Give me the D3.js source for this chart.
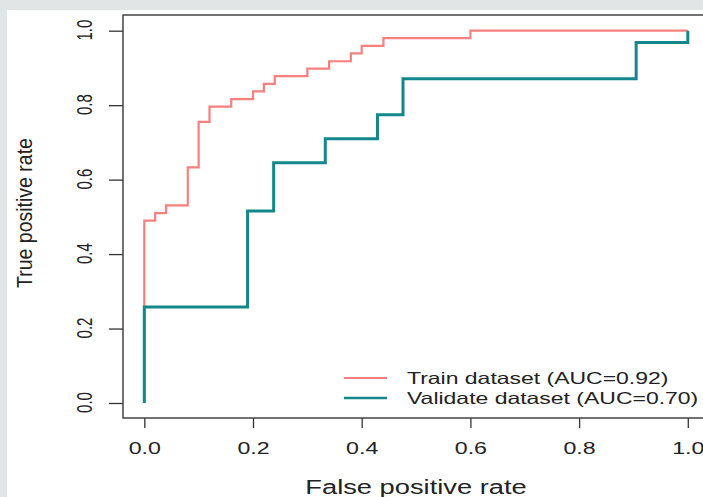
<!DOCTYPE html>
<html>
<head>
<meta charset="utf-8">
<script src="https://cdn.jsdelivr.net/npm/d3@7"></script>
<style>
  body { margin: 0; background: #e1e5e6; }
  text { font-family: "Liberation Sans", Arial, Helvetica, sans-serif; fill: #222; }
</style>
</head>
<body>
<div id="chart"></div>
<script>
// ROC points (fpr, tpr)
const trainFpr = [0, 0, 0.02, 0.04, 0.08, 0.10, 0.12, 0.16, 0.20, 0.22, 0.24, 0.30, 0.34, 0.38, 0.40, 0.44, 0.60, 1.0];
const trainTpr = [0, 0.49, 0.51, 0.531, 0.633, 0.755, 0.796, 0.816, 0.837, 0.857, 0.878, 0.898, 0.918, 0.939, 0.959, 0.98, 1.0, 1.0];
const validFpr = [0, 0, 0.19, 0.238, 0.333, 0.429, 0.476, 0.905, 1.0, 1.0];
const validTpr = [0, 0.258, 0.516, 0.645, 0.71, 0.774, 0.871, 0.968, 0.968, 1.0];
const tickValues = [0, 0.2, 0.4, 0.6, 0.8, 1.0];
const legendLabels = ["Train dataset (AUC=0.92)", "Validate dataset (AUC=0.70)"];
const colors = ["#f7807e", "#14878a"];

function main() {
    const canvasWidth = 703;
    const canvasHeight = 497;

    const svg = d3.select("#chart").append("svg")
        .attr("width", canvasWidth)
        .attr("height", canvasHeight)
        .style("display", "block");

    // white panel on gray page
    svg.append("rect")
        .attr("x", 7).attr("y", 10)
        .attr("width", canvasWidth).attr("height", canvasHeight)
        .attr("fill", "white");

    const xScale = d3.scaleLinear().domain([0, 1]).range([144.3, 687.8]);
    const yScale = d3.scaleLinear().domain([0, 1]).range([403, 30.7]);

    const boxLeft = 123, boxTop = 15, boxBottom = 418;

    // x axis
    const xAxis = svg.append("g")
        .attr("transform", "translate(0," + boxBottom + ")")
        .call(d3.axisBottom(xScale).tickValues(tickValues).tickSize(10).tickFormat(d3.format(".1f")));
    xAxis.select(".domain").remove();
    xAxis.selectAll("line").attr("stroke", "#333").attr("stroke-width", 1.3);
    xAxis.selectAll("text")
        .attr("y", 0).attr("dy", null)
        .attr("font-size", "16px")
        .attr("fill", "#222")
        .attr("transform", "translate(0,36) scale(1.45,1)");

    // y axis, labels turned sideways
    const yAxis = svg.append("g")
        .attr("transform", "translate(" + boxLeft + ",0)")
        .call(d3.axisLeft(yScale).tickValues(tickValues).tickSize(14).tickFormat(d3.format(".1f")));
    yAxis.select(".domain").remove();
    yAxis.selectAll("line").attr("stroke", "#333").attr("stroke-width", 1.3);
    yAxis.selectAll("text")
        .attr("x", 0).attr("y", 0).attr("dy", null)
        .attr("text-anchor", "middle")
        .attr("font-size", "15px")
        .attr("fill", "#222")
        .attr("transform", "translate(-39,-1) scale(1.47,1) rotate(-90) translate(0,5.4)");

    // box
    svg.append("path")
        .attr("d", "M" + (canvasWidth + 10) + "," + boxTop + "H" + boxLeft + "V" + boxBottom + "H" + (canvasWidth + 10))
        .attr("fill", "none")
        .attr("stroke", "#444")
        .attr("stroke-width", 1.5);

    // axis titles
    svg.append("text")
        .attr("font-size", "21px")
        .attr("text-anchor", "middle")
        .attr("transform", "translate(416,494) scale(1.3,1)")
        .text("False positive rate");

    svg.append("text")
        .attr("font-size", "19.5px")
        .attr("text-anchor", "middle")
        .attr("transform", "translate(32,213) scale(1.1,1) rotate(-90)")
        .text("True positive rate");

    // ROC curves
    const line = d3.line()
        .x(d => xScale(d[0]))
        .y(d => yScale(d[1]))
        .curve(d3.curveStepAfter);

    const curves = [
        { pts: d3.zip(trainFpr, trainTpr), color: colors[0], width: 2.2 },
        { pts: d3.zip(validFpr, validTpr), color: colors[1], width: 3 }
    ];
    // validate drawn on top of train
    svg.selectAll(".roc")
        .data(curves)
        .join("path")
        .attr("class", "roc")
        .attr("fill", "none")
        .attr("stroke", d => d.color)
        .attr("stroke-width", d => d.width)
        .attr("d", d => line(d.pts));

    // legend
    const legend = svg.selectAll(".legend")
        .data(legendLabels)
        .join("g")
        .attr("class", "legend")
        .attr("transform", (d, i) => "translate(0," + (378 + i * 20) + ")");
    legend.append("line")
        .attr("x1", 344).attr("x2", 387)
        .attr("stroke", (d, i) => colors[i])
        .attr("stroke-width", (d, i) => i === 0 ? 2 : 2.5);
    legend.append("text")
        .attr("font-size", "16.3px")
        .attr("transform", "translate(407,6) scale(1.41,1)")
        .text(d => d);
}
main();
</script>
</body>
</html>
